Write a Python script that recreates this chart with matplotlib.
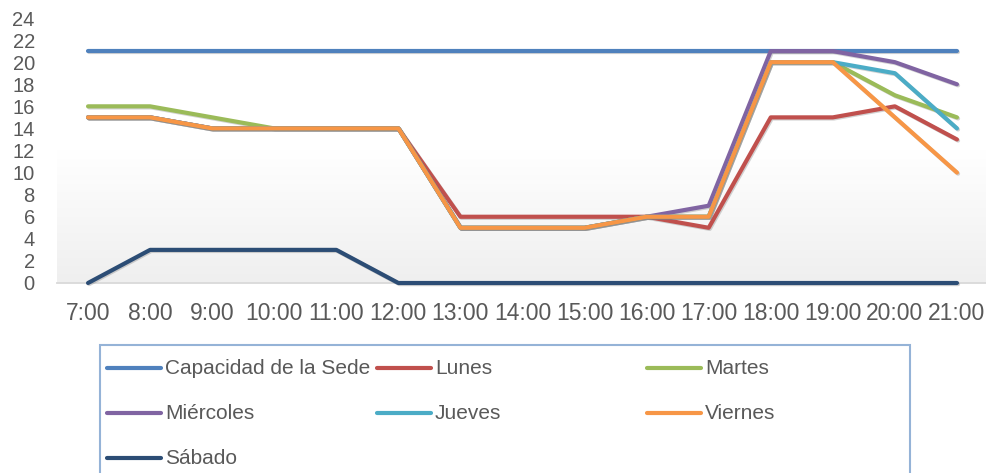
import matplotlib
matplotlib.use('Agg')
import matplotlib.pyplot as plt
import matplotlib.patches as patches
import matplotlib.lines as mlines
import matplotlib.patheffects as pe
from matplotlib.colors import LinearSegmentedColormap
import numpy as np

plt.rcParams['font.family'] = ['Liberation Sans', 'DejaVu Sans']

hours = ['7:00', '8:00', '9:00', '10:00', '11:00', '12:00', '13:00', '14:00',
         '15:00', '16:00', '17:00', '18:00', '19:00', '20:00', '21:00']

capacidad = [21, 21, 21, 21, 21, 21, 21, 21, 21, 21, 21, 21, 21, 21, 21]
lunes = [15, 15, 14, 14, 14, 14, 6, 6, 6, 6, 5, 15, 15, 16, 13]
martes = [16, 16, 15, 14, 14, 14, 5, 5, 5, 6, 6, 20, 20, 17, 15]
miercoles = [15, 15, 14, 14, 14, 14, 5, 5, 5, 6, 7, 21, 21, 20, 18]
jueves = [15, 15, 14, 14, 14, 14, 5, 5, 5, 6, 6, 20, 20, 19, 14]
viernes = [15, 15, 14, 14, 14, 14, 5, 5, 5, 6, 6, 20, 20, 15, 10]
sabado = [0, 3, 3, 3, 3, 0, 0, 0, 0, 0, 0, 0, 0, 0, 0]

series_names = ['Capacidad de la Sede', 'Lunes', 'Martes', 'Miércoles',
                'Jueves', 'Viernes', 'Sábado']
series_values = [capacidad, lunes, martes, miercoles, jueves, viernes, sabado]
colors = ['#4F81BD', '#C0504D', '#9BBB59', '#8064A2', '#4BACC6', '#F79646', '#2C4D75']

W, H = 987, 473
fig = plt.figure(figsize=(W / 100, H / 100), dpi=100)
fig.patch.set_facecolor('white')
ax = fig.add_axes([57 / W, 1 - 283 / H, (988 - 57) / W, (283 - 18) / H])

x = np.arange(len(hours))
ax.set_xlim(-0.5, len(hours) - 0.5)
ax.set_ylim(0, 24)

# plot area gradient
grad = np.linspace(0, 1, 256).reshape(-1, 1)
cmap = LinearSegmentedColormap.from_list('bg', ['#ffffff', '#ffffff', '#efefef'])
ax.imshow(grad, cmap=cmap, extent=(-0.5, len(hours) - 0.5, 0, 24),
          aspect='auto', zorder=0)

shadow = [pe.SimpleLineShadow(offset=(0.8, -0.8), shadow_color='#808080', alpha=0.35),
          pe.Normal()]

lines = []
for name, vals, col in zip(series_names, series_values, colors):
    ln, = ax.plot(x, vals, color=col, linewidth=3, solid_capstyle='round',
                  clip_on=False, zorder=3, label=name, path_effects=shadow)
    lines.append(ln)

for side in ['top', 'right', 'left']:
    ax.spines[side].set_visible(False)
ax.spines['bottom'].set_color('#d9d9d9')
ax.spines['bottom'].set_linewidth(1.3)
ax.spines['bottom'].set_zorder(2)

ax.set_xticks(x)
ax.set_xticklabels(hours)
ax.set_yticks(range(0, 25, 2))
ax.tick_params(axis='y', length=0, pad=16, labelsize=14.5, labelcolor='#595959')
ax.tick_params(axis='x', length=0, pad=14, labelsize=16.5, labelcolor='#595959')

# legend box (Excel style, equal column widths)
frame = patches.Rectangle((100 / W, -0.1), (910 - 100) / W, (1 - 345 / H) + 0.1,
                          transform=fig.transFigure, fill=False,
                          edgecolor='#95B3D7', linewidth=1.5)
fig.add_artist(frame)

col_x = [107, 377, 647]
row_y = [368, 413, 458]
for i, ln in enumerate(lines):
    r, c = divmod(i, 3)
    x0 = col_x[c]
    y0 = row_y[r]
    handle = mlines.Line2D([x0 / W, (x0 + 54) / W], [1 - y0 / H, 1 - y0 / H],
                           transform=fig.transFigure, color=ln.get_color(),
                           linewidth=3, solid_capstyle='round')
    fig.add_artist(handle)
    fig.text((x0 + 58) / W, 1 - y0 / H, ln.get_label(), fontsize=15,
             color='#595959', va='center', ha='left')

fig.savefig('out.png', dpi=100)
